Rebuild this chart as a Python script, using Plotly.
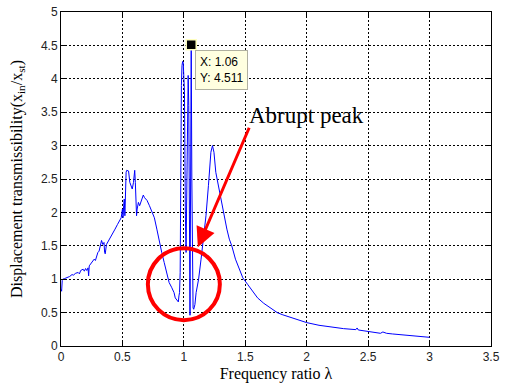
import plotly.graph_objects as go

freq_ratio = [
    0.000, 0.005, 0.010, 0.015, 0.03, 0.05, 0.07, 0.09, 0.10, 0.12, 0.14, 0.15, 0.16, 0.18, 0.19,
    0.20, 0.21, 0.22, 0.225, 0.23, 0.25, 0.27, 0.28, 0.30, 0.31, 0.32, 0.33, 0.34, 0.35, 0.355,
    0.36, 0.37, 0.38, 0.40, 0.42, 0.44, 0.46, 0.48, 0.49, 0.50, 0.505, 0.51, 0.515, 0.52, 0.525,
    0.53, 0.535, 0.55, 0.56, 0.57, 0.58, 0.59, 0.60, 0.605, 0.61, 0.615, 0.62, 0.63, 0.64, 0.66,
    0.67, 0.68, 0.70, 0.72, 0.74, 0.76, 0.78, 0.80, 0.82, 0.84, 0.86, 0.87, 0.88, 0.90, 0.92,
    0.93, 0.94, 0.955, 0.96, 0.965, 0.97, 0.975, 0.98, 0.985, 0.99, 0.995, 1.000, 1.005, 1.012,
    1.018, 1.025, 1.030, 1.035, 1.040, 1.045, 1.050, 1.055, 1.060, 1.065, 1.070, 1.075, 1.080,
    1.09, 1.10, 1.12, 1.14, 1.16, 1.18, 1.20, 1.21, 1.22, 1.233, 1.245, 1.26, 1.27, 1.29, 1.31,
    1.33, 1.35, 1.37, 1.39, 1.42, 1.45, 1.48, 1.52, 1.56, 1.60, 1.65, 1.70, 1.76, 1.80, 1.85,
    1.90, 1.95, 2.00, 2.10, 2.20, 2.30, 2.40, 2.41, 2.42, 2.50, 2.60, 2.62, 2.65, 2.70, 2.80,
    2.90, 3.00,
]
transmissibility = [
    0.85, 0.82, 0.98, 1.00, 1.01, 1.02, 1.04, 1.07, 1.06, 1.09, 1.10, 1.08, 1.13, 1.15, 1.12,
    1.16, 1.13, 1.17, 1.05, 1.20, 1.25, 1.30, 1.28, 1.40, 1.42, 1.50, 1.58, 1.52, 1.55, 1.40,
    1.38, 1.52, 1.55, 1.62, 1.68, 1.75, 1.82, 1.90, 1.92, 2.05, 1.92, 2.10, 2.20, 1.95, 2.35,
    2.60, 2.63, 2.62, 2.45, 2.40, 2.35, 2.45, 2.63, 2.45, 2.20, 1.95, 2.05, 2.15, 2.10, 2.20,
    2.26, 2.22, 2.18, 2.10, 2.02, 1.92, 1.75, 1.55, 1.40, 1.25, 1.10, 1.00, 0.95, 0.88, 0.80,
    0.72, 0.70, 0.66, 0.75, 0.80, 1.10, 3.10, 3.90, 4.20, 4.26, 4.24, 4.10, 3.80, 2.00,
    1.40, 2.50, 3.90, 4.05, 3.60, 1.50, 0.46, 2.50, 4.511, 2.50, 0.75, 0.57, 0.55,
    0.62, 0.80, 1.00, 1.30, 1.60, 1.95, 2.40, 2.70, 2.90, 3.00, 2.90, 2.60, 2.50, 2.30, 2.10,
    1.95, 1.75, 1.60, 1.50, 1.30, 1.15, 1.02, 0.92, 0.82, 0.72, 0.64, 0.58, 0.50, 0.47, 0.44,
    0.41, 0.38, 0.35, 0.31, 0.28, 0.26, 0.245, 0.27, 0.24, 0.22, 0.19, 0.21, 0.19, 0.18, 0.16,
    0.14, 0.13,
]
tip_x = [1.06]
tip_y = [4.511]
x_ticks = [0, 0.5, 1, 1.5, 2, 2.5, 3, 3.5]
x_tick_text = ["0", "0.5", "1", "1.5", "2", "2.5", "3", "3.5"]
y_ticks = [0, 0.5, 1, 1.5, 2, 2.5, 3, 3.5, 4, 4.5, 5]
y_tick_text = ["0", "0.5", "1", "1.5", "2", "2.5", "3", "3.5", "4", "4.5", "5"]

fig = go.Figure()
fig.add_trace(go.Scatter(x=freq_ratio, y=transmissibility, mode="lines",
                         line=dict(color="#0000ff", width=1), showlegend=False))
fig.add_trace(go.Scatter(x=tip_x, y=tip_y, mode="markers",
                         marker=dict(symbol="square", size=10, color="black",
                                     line=dict(color="#ffffc0", width=1.5)),
                         showlegend=False))

serif = "Liberation Serif, Times New Roman, serif"
sans = "Liberation Sans, Arial, Helvetica, sans-serif"

axis_common = dict(
    showgrid=True, gridcolor="black", griddash="2px,2px", gridwidth=1,
    showline=True, linecolor="black", linewidth=1, mirror="ticks",
    ticks="inside", ticklen=4, tickcolor="black", automargin=False,
    zeroline=False, tickfont=dict(family=sans, size=12, color="#222"),
)
fig.update_xaxes(range=[0, 3.5], tickvals=x_ticks, ticktext=x_tick_text,
                 title=dict(text="Frequency ratio λ", font=dict(family=serif, size=16, color="black"),
                            standoff=4),
                 **axis_common)
fig.update_yaxes(range=[0, 5], tickvals=y_ticks, ticktext=y_tick_text,
                 title=dict(text="Displacement transmissibility(x<sub>in</sub>/x<sub>st</sub>)",
                            font=dict(family=serif, size=16, color="black"), standoff=14),
                 **axis_common)

# data tip box
fig.add_annotation(x=tip_x[0], y=tip_y[0], xref="x", yref="y", showarrow=False,
                   text="X: 1.06<br>Y: 4.511", align="left",
                   xanchor="left", yanchor="top", xshift=4, yshift=-5,
                   font=dict(family=sans, size=12, color="black"),
                   bgcolor="#ffffe0", bordercolor="#b0b0a0", borderwidth=1, borderpad=4)

# red arrow
fig.add_annotation(x=1.114, y=1.48, ax=1.537, ay=3.29, xref="x", yref="y",
                   axref="x", ayref="y", showarrow=True, text="",
                   arrowhead=2, arrowsize=1.3, arrowwidth=3, arrowcolor="#ff0000")

# label
fig.add_annotation(x=1.51, y=3.45, xref="x", yref="y", showarrow=False,
                   text="Abrupt peak", xanchor="left", yanchor="middle",
                   font=dict(family=serif, size=23, color="black"))

# red circle
fig.add_shape(type="circle", xref="x", yref="y", xsizemode="pixel", ysizemode="pixel",
              xanchor=1.0, yanchor=0.925, x0=-36, x1=36, y0=-36, y1=36,
              line=dict(color="#ff0000", width=4))

fig.update_layout(
    width=513, height=385,
    margin=dict(l=61, r=22, t=12, b=39),
    paper_bgcolor="white", plot_bgcolor="white",
)
fig.write_html("out.html")
